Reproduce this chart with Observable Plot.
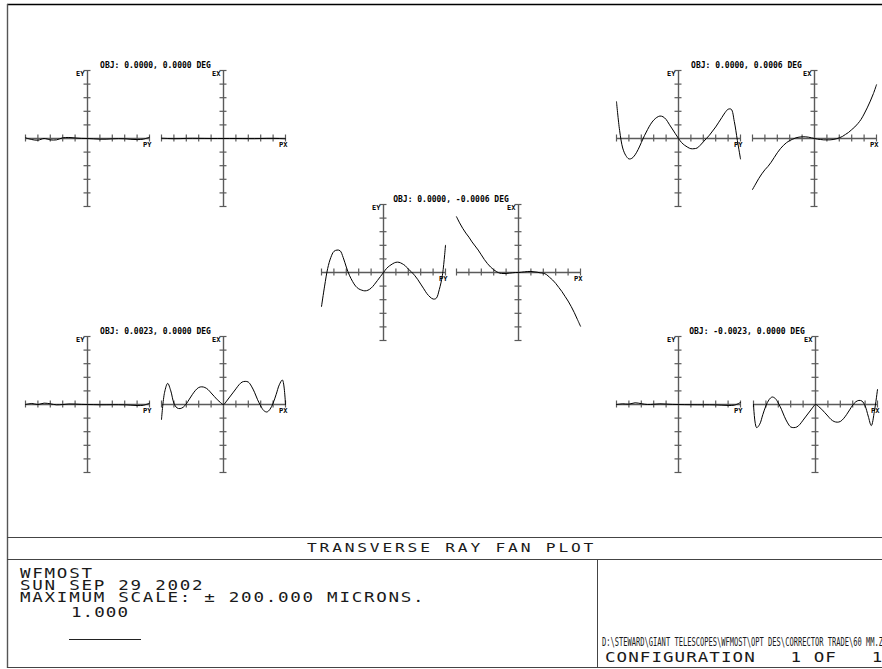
<!DOCTYPE html>
<html><head><meta charset="utf-8">
<script src="https://cdn.jsdelivr.net/npm/d3@7"></script>
<script src="https://cdn.jsdelivr.net/npm/@observablehq/plot@0.6"></script>
<style>
body{margin:0;background:#fff;}
#page{position:relative;width:882px;height:669px;overflow:hidden;background:#fff;}
#page > svg{position:absolute;}
</style></head><body><div id="page"></div>
<script>
// Normalized pupil coordinates and ray errors (1.0 = 200 microns)
const pupil41 = [-1,-0.95,-0.9,-0.85,-0.8,-0.75,-0.7,-0.65,-0.6,-0.55,-0.5,-0.45,-0.4,-0.35,-0.3,-0.25,-0.2,-0.15,-0.1,-0.05,0,0.05,0.1,0.15,0.2,0.25,0.3,0.35,0.4,0.45,0.5,0.55,0.6,0.65,0.7,0.75,0.8,0.85,0.9,0.95,1];
const pupil21 = [-1,-0.9,-0.8,-0.7,-0.6,-0.5,-0.4,-0.3,-0.2,-0.1,0,0.1,0.2,0.3,0.4,0.5,0.6,0.7,0.8,0.9,1];
const tickValues = [-1,-0.8,-0.6,-0.4,-0.2,0.2,0.4,0.6,0.8,1];

// OBJ: 0.0000, 0.0000 DEG
const eyA = [0.01,-0.015,-0.025,0.0,-0.02,-0.02,0.01,0.015,0.008,0.002,0,-0.005,-0.01,-0.01,-0.005,-0.002,-0.004,-0.012,-0.016,-0.01,0.02];
const exA = [0.004,0.0,-0.003,-0.002,0.002,0.003,0.002,0.001,0.0,0.0,0,0.0,0.0,-0.001,-0.002,-0.002,0.0,0.002,0.002,0.0,-0.004];
// OBJ: 0.0000, 0.0006 DEG
const eyB = [0.54,0.12,-0.14,-0.25,-0.30,-0.29,-0.24,-0.16,-0.06,0.04,0.13,0.21,0.27,0.31,0.33,0.32,0.28,0.21,0.14,0.07,0,-0.06,-0.10,-0.13,-0.15,-0.15,-0.14,-0.10,-0.05,0.00,0.05,0.11,0.17,0.24,0.31,0.38,0.43,0.43,0.25,-0.03,-0.30];
const exB = [-0.75,-0.67,-0.59,-0.52,-0.46,-0.41,-0.35,-0.28,-0.21,-0.15,-0.10,-0.06,-0.03,-0.01,0.01,0.02,0.025,0.025,0.02,0.01,0,-0.01,-0.015,-0.02,-0.02,-0.02,-0.015,-0.005,0.01,0.03,0.06,0.09,0.13,0.17,0.22,0.28,0.36,0.45,0.55,0.66,0.79];
// OBJ: 0.0000, -0.0006 DEG
const eyC = [-0.50,-0.20,0.06,0.22,0.31,0.33,0.32,0.22,0.08,-0.04,-0.13,-0.20,-0.24,-0.26,-0.27,-0.26,-0.23,-0.18,-0.12,-0.06,0,0.06,0.10,0.13,0.15,0.15,0.13,0.10,0.05,0.01,-0.04,-0.10,-0.17,-0.24,-0.31,-0.36,-0.39,-0.38,-0.25,-0.04,0.40];
const exC = [0.82,0.73,0.65,0.58,0.52,0.45,0.39,0.33,0.26,0.19,0.13,0.08,0.04,0.01,-0.01,-0.015,-0.015,-0.01,-0.005,0,0,0.005,0.01,0.015,0.015,0.01,0.005,-0.005,-0.01,-0.03,-0.07,-0.11,-0.16,-0.22,-0.28,-0.35,-0.42,-0.50,-0.59,-0.69,-0.79];
// OBJ: 0.0023, 0.0000 DEG
const eyD = [0.0,0.015,0.0,0.02,0.01,-0.005,0.0,0.008,0.006,0.002,0,-0.002,-0.004,-0.004,-0.003,-0.003,-0.005,-0.01,-0.015,-0.012,0.02];
const exD = [-0.22,0.18,0.31,0.20,0.02,-0.05,-0.06,-0.04,0.01,0.08,0.15,0.21,0.25,0.26,0.25,0.22,0.17,0.12,0.07,0.03,0,0.05,0.11,0.17,0.23,0.29,0.33,0.34,0.33,0.27,0.18,0.07,-0.02,-0.09,-0.11,-0.07,0.02,0.15,0.29,0.36,0.0];
// OBJ: -0.0023, 0.0000 DEG
const eyE = [0.0,0.01,0.005,0.025,0.012,0.0,0.004,0.01,0.006,0.002,0,-0.002,-0.003,-0.004,-0.004,-0.004,-0.006,-0.01,-0.014,-0.01,0.03];
const exE = [0.0,-0.34,-0.29,-0.15,-0.02,0.07,0.11,0.09,0.02,-0.07,-0.18,-0.27,-0.33,-0.34,-0.33,-0.29,-0.23,-0.17,-0.11,-0.05,0,-0.03,-0.07,-0.12,-0.17,-0.22,-0.25,-0.26,-0.25,-0.21,-0.15,-0.08,-0.01,0.04,0.06,0.05,-0.02,-0.17,-0.31,-0.10,0.22];

const objLabels = ["OBJ: 0.0000, 0.0000 DEG","OBJ: 0.0000, 0.0006 DEG","OBJ: 0.0000, -0.0006 DEG","OBJ: 0.0023, 0.0000 DEG","OBJ: -0.0023, 0.0000 DEG"];

const footerTitle = "TRANSVERSE RAY FAN PLOT";
const footerLines = ["WFMOST","SUN SEP 29 2002","MAXIMUM SCALE: \u00b1 200.000 MICRONS."];
const scaleLabel = "1.000";
const filePath = "D:\\STEWARD\\GIANT TELESCOPES\\WFMOST\\OPT DES\\CORRECTOR TRADE\\60 MM.ZMX";
const configText = "CONFIGURATION   1 OF   1";

// ---- layout (page pixels) ----
const panels = [
  {ey: eyA, ex: exA, pe: pupil21, px: pupil21, cy: 138, cxY: 87,  cxX: 223},
  {ey: eyB, ex: exB, pe: pupil41, px: pupil41, cy: 138, cxY: 678, cxX: 814},
  {ey: eyC, ex: exC, pe: pupil41, px: pupil41, cy: 272, cxY: 383, cxX: 518},
  {ey: eyD, ex: exD, pe: pupil21, px: pupil41, cy: 404, cxY: 87,  cxX: 223},
  {ey: eyE, ex: exE, pe: pupil21, px: pupil41, cy: 404, cxY: 678, cxX: 815}
];
const HW = 62, HH = 68, ML = 14, MR = 10, MT = 12, MB = 14;
const AX = "#5a5a5a";
const FONT = "DejaVu Sans Mono";
const page = document.getElementById("page");

function fan(pupil, err, vName, hName, cx, cy, title, gap) {
  const data = pupil.map((p, i) => ({p, e: err[i]}));
  const tx = 3.5 / HW, ty = 3.5 / HH;
  const marks = [
    Plot.ruleY([0], {stroke: AX, strokeWidth: 1.4}),
    Plot.ruleX([0], {stroke: AX, strokeWidth: 1.4}),
    Plot.ruleX(tickValues, {y1: -ty, y2: ty, stroke: AX, strokeWidth: 1.2}),
    Plot.ruleY(tickValues, {x1: -tx, x2: tx, stroke: AX, strokeWidth: 1.2}),
    Plot.line(data, {x: "p", y: "e", curve: "catmull-rom", stroke: "#000", strokeWidth: 1}),
    Plot.text([vName], {x: 0, y: 1, dx: -3, dy: 1, textAnchor: "end", lineAnchor: "top", fontSize: 7, fontWeight: "bold", fill: "#000"}),
    Plot.text([hName], {x: 1, y: 0, dy: 3.5, dx: 2, textAnchor: "end", lineAnchor: "top", fontSize: 7, fontWeight: "bold", fill: "#000"})
  ];
  if (title) marks.push(Plot.text([title], {x: 1, y: 1, dx: gap / 2, dy: -2.5, textAnchor: "middle", lineAnchor: "bottom", fontSize: 8, fontWeight: "bold", fill: "#000", letterSpacing: "0.35px"}));
  const svg = Plot.plot({
    width: 2 * HW + ML + MR, height: 2 * HH + MT + MB,
    marginLeft: ML, marginRight: MR, marginTop: MT, marginBottom: MB,
    x: {domain: [-1, 1], axis: null},
    y: {domain: [-1, 1], axis: null},
    style: {overflow: "visible", background: "transparent", fontFamily: FONT},
    marks
  });
  svg.style.left = (cx - HW - ML) + "px";
  svg.style.top = (cy - HH - MT) + "px";
  page.appendChild(svg);
}

panels.forEach((d, i) => {
  fan(d.pe, d.ey, "EY", "PY", d.cxY, d.cy, objLabels[i], d.cxX - d.cxY - 2 * HW);
  fan(d.px, d.ex, "EX", "PX", d.cxX, d.cy, null, 0);
});

// ---- frame and footer block ----
const o = d3.select(page).append("svg").attr("width", 882).attr("height", 669)
  .style("left", "0px").style("top", "0px").style("font-family", FONT);
const L = (x1, y1, x2, y2, c, w) => o.append("line").attr("x1", x1).attr("y1", y1).attr("x2", x2).attr("y2", y2).attr("stroke", c).attr("stroke-width", w);
L(7, 4.5, 900, 4.5, "#000", 1.6);
L(7.5, 4, 7.5, 668, "#555", 1.4);
L(7, 537.5, 900, 537.5, "#444", 1);
L(7, 559.5, 900, 559.5, "#444", 1);
L(7, 667.5, 900, 667.5, "#444", 1);
L(597.5, 559, 597.5, 668, "#444", 1);
L(69, 639.5, 141, 639.5, "#222", 1);

// stroke-font look: wide monospace glyphs, stretched horizontally
const T = (s, x, y, size, sx, ls) => o.append("text").attr("x", 0).attr("y", 0).attr("font-size", size)
  .attr("letter-spacing", ls).attr("fill", "#1a1a1a").attr("xml:space", "preserve").style("white-space", "pre")
  .attr("transform", `translate(${x},${y}) scale(${sx},1)`).text(s);
T(footerTitle, 307, 551.5, 12.5, 1.3, "2.15px");
footerLines.forEach((s, i) => T(s, 20, 578 + 12 * i, 13.5, 1.3, "1.33px"));
T(scaleLabel, 71, 617, 13.5, 1.3, "0.8px");
T(filePath, 602, 646, 12, 0.59, "0px");
T(configText, 605, 662, 13.5, 1.3, "0.8px");
</script></body></html>
